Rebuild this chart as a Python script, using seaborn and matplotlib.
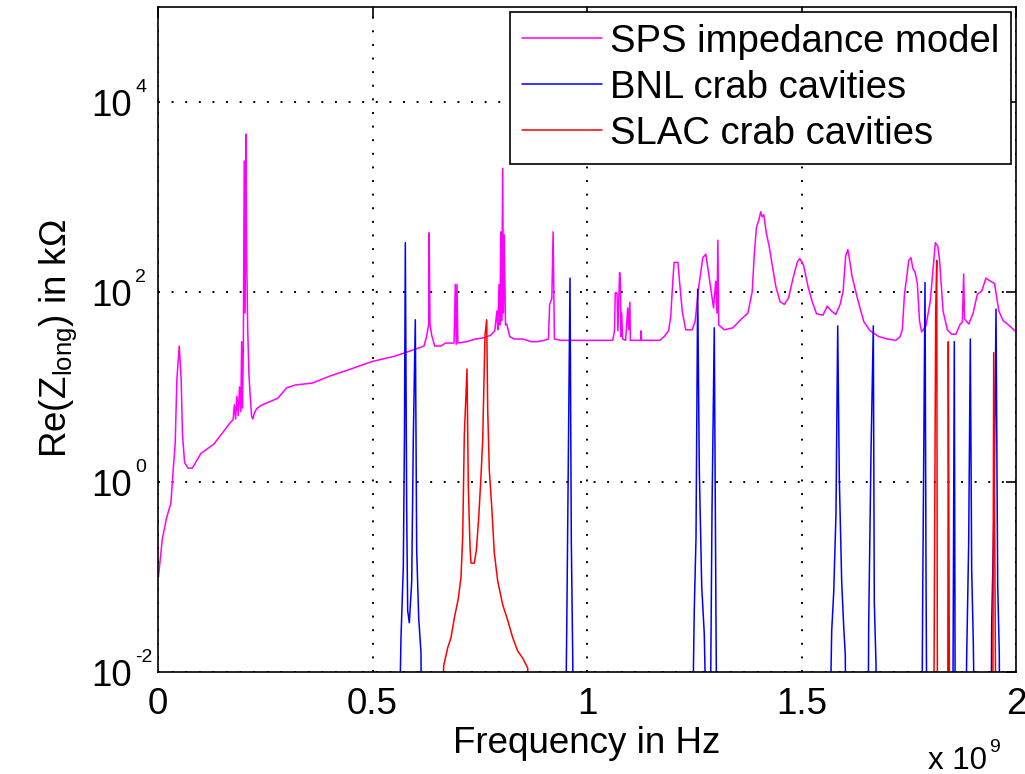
import numpy as np
import pandas as pd
import matplotlib
matplotlib.use("Agg")
import matplotlib.pyplot as plt
from matplotlib.lines import Line2D
from matplotlib.ticker import NullLocator, FixedLocator
import seaborn as sns

# ---------------- data (frequency in GHz, Re(Z) in kOhm) ----------------
sps_freq = [0.001, 0.01, 0.02, 0.03, 0.035, 0.040, 0.044, 0.0495, 0.054, 0.057, 0.062, 0.07, 0.08,
            0.10, 0.13, 0.17, 0.175, 0.178, 0.181, 0.184, 0.187, 0.19, 0.193, 0.195, 0.197, 0.199,
            0.201, 0.203, 0.205, 0.207, 0.209, 0.212, 0.215, 0.218, 0.221, 0.225, 0.23, 0.24,
            0.279, 0.30, 0.32, 0.36, 0.40, 0.45, 0.50, 0.55, 0.60, 0.62, 0.626, 0.631, 0.632,
            0.634, 0.638, 0.645, 0.66, 0.67, 0.69, 0.693, 0.695, 0.697, 0.699, 0.72, 0.74, 0.76,
            0.775, 0.785, 0.79, 0.792, 0.795, 0.797, 0.799, 0.801, 0.8035, 0.805, 0.807, 0.81,
            0.813, 0.82, 0.83, 0.85, 0.87, 0.885, 0.90, 0.91, 0.913, 0.918, 0.921, 0.924, 0.94,
            1.00, 1.06, 1.064, 1.066, 1.070, 1.072, 1.076, 1.078, 1.079, 1.081, 1.083, 1.09,
            1.095, 1.097, 1.100, 1.101, 1.12, 1.125, 1.126, 1.127, 1.17, 1.18, 1.19, 1.195, 1.20,
            1.203, 1.212, 1.216, 1.222, 1.23, 1.245, 1.252, 1.26, 1.27, 1.277, 1.285, 1.295, 1.30,
            1.303, 1.305, 1.307, 1.32, 1.34, 1.36, 1.375, 1.385, 1.39, 1.395, 1.40, 1.405, 1.408,
            1.412, 1.418, 1.425, 1.43, 1.44, 1.45, 1.46, 1.47, 1.48, 1.49, 1.496, 1.505, 1.515,
            1.525, 1.535, 1.55, 1.56, 1.57, 1.58, 1.59, 1.597, 1.603, 1.608, 1.612, 1.618, 1.63,
            1.645, 1.66, 1.68, 1.70, 1.72, 1.73, 1.735, 1.74, 1.745, 1.75, 1.755, 1.76, 1.765,
            1.77, 1.775, 1.78, 1.79, 1.80, 1.807, 1.812, 1.818, 1.822, 1.83, 1.84, 1.85, 1.86,
            1.87, 1.875, 1.878, 1.88, 1.89, 1.90, 1.91, 1.92, 1.93, 1.94, 1.95, 1.96, 1.97,
            1.985, 2.00]
sps_z = [0.1, 0.25, 0.42, 0.6, 1.26, 2.5, 12, 27, 12, 3.2, 1.6, 1.4, 1.4,
         2.0, 2.5, 4.3, 4.5, 6.5, 4.6, 8, 5, 10, 5.5, 30, 6, 30,
         2400, 60, 4600, 200, 42, 13.5, 8, 5, 4.6, 5.4, 5.9, 6.4,
         7.6, 9.8, 10.5, 11, 13, 15.5, 18.6, 21, 25, 27, 34, 46, 420,
         46, 35, 27, 27, 29, 29, 120, 28, 120, 29, 30, 32, 33,
         35, 39, 63, 40, 120, 45, 430, 50, 2000, 60, 400, 45,
         46, 34, 32, 32, 30, 30, 31, 32, 74, 85, 430, 32, 31,
         31, 31, 39, 98, 98, 39, 160, 120, 34, 60, 32, 31,
         68, 40, 78, 31, 31, 31, 39, 31, 31, 34, 39, 54, 130,
         205, 205, 125, 63, 40, 40, 49, 110, 230, 250, 140, 68, 130,
         60, 350, 45, 40, 42, 52, 60, 100, 250, 480, 560, 700, 620,
         650, 420, 295, 215, 115, 79, 74, 87, 138, 205, 225, 190, 115,
         79, 59, 57, 71, 63, 58, 74, 102, 240, 280, 220, 145, 87,
         49, 39, 34, 32, 31, 34, 40, 95, 140, 215, 230, 175, 160,
         123, 50, 38, 44, 79, 180, 330, 300, 210, 63, 40, 36, 36,
         46, 48, 155, 52, 46, 60, 95, 102, 140, 130, 123, 63, 50,
         44, 38]

bnl_freq = [
    [0.561, 0.5664, 0.5718, 0.5745, 0.5765, 0.5797, 0.582, 0.5858, 0.5914, 0.5951, 0.5998, 0.603, 0.6077, 0.613, 0.6147],
    [0.9494, 0.9534, 0.9604, 0.9634, 0.9667, 0.969],
    [1.2448, 1.2501, 1.2541, 1.258, 1.2618, 1.2674, 1.2734, 1.2797],
    [1.2867, 1.2914, 1.2967, 1.3007, 1.303],
    [1.5648, 1.5704, 1.5751, 1.5804, 1.5844, 1.5881, 1.5937, 1.5984, 1.6021, 1.604],
    [1.655, 1.6566, 1.662, 1.6674, 1.6697, 1.6737, 1.676],
    [1.7802, 1.7825, 1.7879, 1.7902, 1.7925],
    [1.8524, 1.8562, 1.8585],
    [1.8818, 1.8851, 1.8897, 1.8935, 1.8967, 1.9005, 1.9044],
    [1.9417, 1.9433, 1.9487, 1.9534, 1.9573, 1.961, 1.9627],
]
bnl_z = [
    [0.001, 0.023, 0.126, 3.0, 330, 0.5, 0.044, 0.033, 0.089, 2.8, 51, 0.19, 0.037, 0.016, 0.001],
    [0.001, 0.056, 140, 0.25, 0.0145, 0.001],
    [0.001, 0.046, 0.26, 107, 1.35, 0.08, 0.025, 0.001],
    [0.001, 0.5, 42, 0.032, 0.001],
    [0.001, 0.027, 0.069, 0.47, 44, 1.1, 0.089, 0.03, 0.015, 0.001],
    [0.001, 0.032, 2.0, 44, 0.054, 0.012, 0.001],
    [0.001, 0.06, 126, 0.12, 0.001],
    [0.001, 30, 0.001],
    [0.001, 0.015, 0.23, 32, 0.12, 0.02, 0.001],
    [0.001, 0.032, 0.5, 66, 0.085, 0.016, 0.001],
]

slac_freq = [
    [0.658, 0.666, 0.6753, 0.683, 0.6907, 0.70, 0.7063, 0.7103, 0.714, 0.7203, 0.7233, 0.7273, 0.7296,
     0.7373, 0.742, 0.7476, 0.7529, 0.7569, 0.7622, 0.7662, 0.7685, 0.7722, 0.7779, 0.7839, 0.7918,
     0.8035, 0.8152, 0.8268, 0.8385, 0.8501, 0.8618, 0.8678],
    [1.8082, 1.8096, 1.8128, 1.8152, 1.817],
    [1.8408, 1.8422, 1.8445, 1.846],
    [1.9457, 1.948, 1.951, 1.9534],
]
slac_z = [
    [0.001, 0.0117, 0.018, 0.023, 0.037, 0.059, 0.1, 0.27, 3.1, 15.5, 0.91, 0.21, 0.14,
     0.14, 0.19, 0.42, 1.15, 2.8, 35, 51, 5.9, 1.35, 0.55, 0.18, 0.091,
     0.051, 0.035, 0.023, 0.0166, 0.014, 0.011, 0.001],
    [0.001, 0.05, 63, 215, 0.001],
    [0.001, 30, 0.014, 0.001],
    [0.001, 23, 0.085, 0.001],
]

series_names = ["SPS impedance model", "BNL crab cavities", "SLAC crab cavities"]
series_colors = ["#FF00FF", "#0000FF", "#FF0000"]
x_ticks = [0, 0.5, 1, 1.5, 2]
x_ticklabels = ["0", "0.5", "1", "1.5", "2"]
y_ticks = [1e-2, 1e0, 1e2, 1e4]
y_exponents = ["-2", "0", "2", "4"]

# ---------------- build long table ----------------
rows = []
for f, z in zip(sps_freq, sps_z):
    rows.append((f * 1e9, z, series_names[0], "sps_0"))
for i, (fs, zs) in enumerate(zip(bnl_freq, bnl_z)):
    for f, z in zip(fs, zs):
        rows.append((f * 1e9, z, series_names[1], f"bnl_{i}"))
for i, (fs, zs) in enumerate(zip(slac_freq, slac_z)):
    for f, z in zip(fs, zs):
        rows.append((f * 1e9, z, series_names[2], f"slac_{i}"))
df = pd.DataFrame(rows, columns=["freq", "z", "series", "seg"])

# ---------------- style ----------------
sns.set_style("white")
plt.rcParams["font.family"] = ["Liberation Sans", "DejaVu Sans"]
plt.rcParams["mathtext.fontset"] = "custom"
plt.rcParams["mathtext.rm"] = "Liberation Sans"
plt.rcParams["mathtext.it"] = "Liberation Sans:italic"
plt.rcParams["mathtext.bf"] = "Liberation Sans:bold"
for k in ["text.color", "axes.labelcolor", "xtick.color", "ytick.color"]:
    plt.rcParams[k] = "black"
FS = 26.5
SUP = 14

W, H = 1025, 774
L, R, T, B = 158, 1016, 7, 672
fig = plt.figure(figsize=(W / 100, H / 100), dpi=100)
ax = fig.add_axes([L / W, 1 - B / H, (R - L) / W, (B - T) / H])

palette = dict(zip(series_names, series_colors))
sns.lineplot(data=df, x="freq", y="z", hue="series", units="seg", estimator=None,
             sort=False, palette=palette, hue_order=series_names, linewidth=1.1,
             legend=False, ax=ax)

ax.set_yscale("log")
ax.set_xlim(0, 2e9)
ax.set_ylim(1e-2, 1e5)
ax.yaxis.set_major_locator(FixedLocator(y_ticks))
ax.yaxis.set_minor_locator(NullLocator())
ax.set_yticklabels(["10"] * len(y_ticks))
ax.set_xticks([t * 1e9 for t in x_ticks])
ax.set_xticklabels(x_ticklabels)
ax.xaxis.set_minor_locator(NullLocator())
ax.tick_params(direction="in", length=7, width=1.2, top=True, right=True,
               labelsize=FS, colors="black")
ax.tick_params(axis="x", pad=11)
ax.tick_params(axis="y", pad=19)
ax.grid(True, which="major", color="black", linestyle=(0, (1, 6)), linewidth=1.4)
for s in ax.spines.values():
    s.set_color("black")
    s.set_linewidth(1.2)
ax.set_xlabel("")
ax.set_ylabel("")

# small superscript exponents for the y tick labels
for yt, ex in zip(y_ticks, y_exponents):
    ax.annotate(ex, xy=(0, yt), xycoords=("axes fraction", "data"),
                xytext=(-23, 15), textcoords="offset pixels",
                ha="left", va="center", fontsize=SUP)

fig.text(587 / W, 1 - 753 / H, "Frequency in Hz", ha="center", va="baseline", fontsize=FS)
fig.text(58 / W, 1 - 338 / H, "Re(Z$_{\\mathrm{long}}$) in kΩ", ha="center", va="center",
         rotation=90, fontsize=FS)
fig.text(987 / W, 1 - 769 / H, "x 10", ha="right", va="baseline", fontsize=FS - 4)
fig.text(989 / W, 1 - 748 / H, "9", ha="left", va="center", fontsize=SUP)

handles = [Line2D([0], [0], color=c, linewidth=1.1) for c in series_colors]
leg = ax.legend(handles, series_names, loc="upper right", fontsize=FS + 1, frameon=True,
                fancybox=False, edgecolor="black", framealpha=1, borderaxespad=0.12,
                handlelength=2.1, handletextpad=0.2, labelspacing=0.26, borderpad=0.32)
leg.get_frame().set_linewidth(1.2)

fig.savefig("out.png", dpi=100, facecolor="white")
